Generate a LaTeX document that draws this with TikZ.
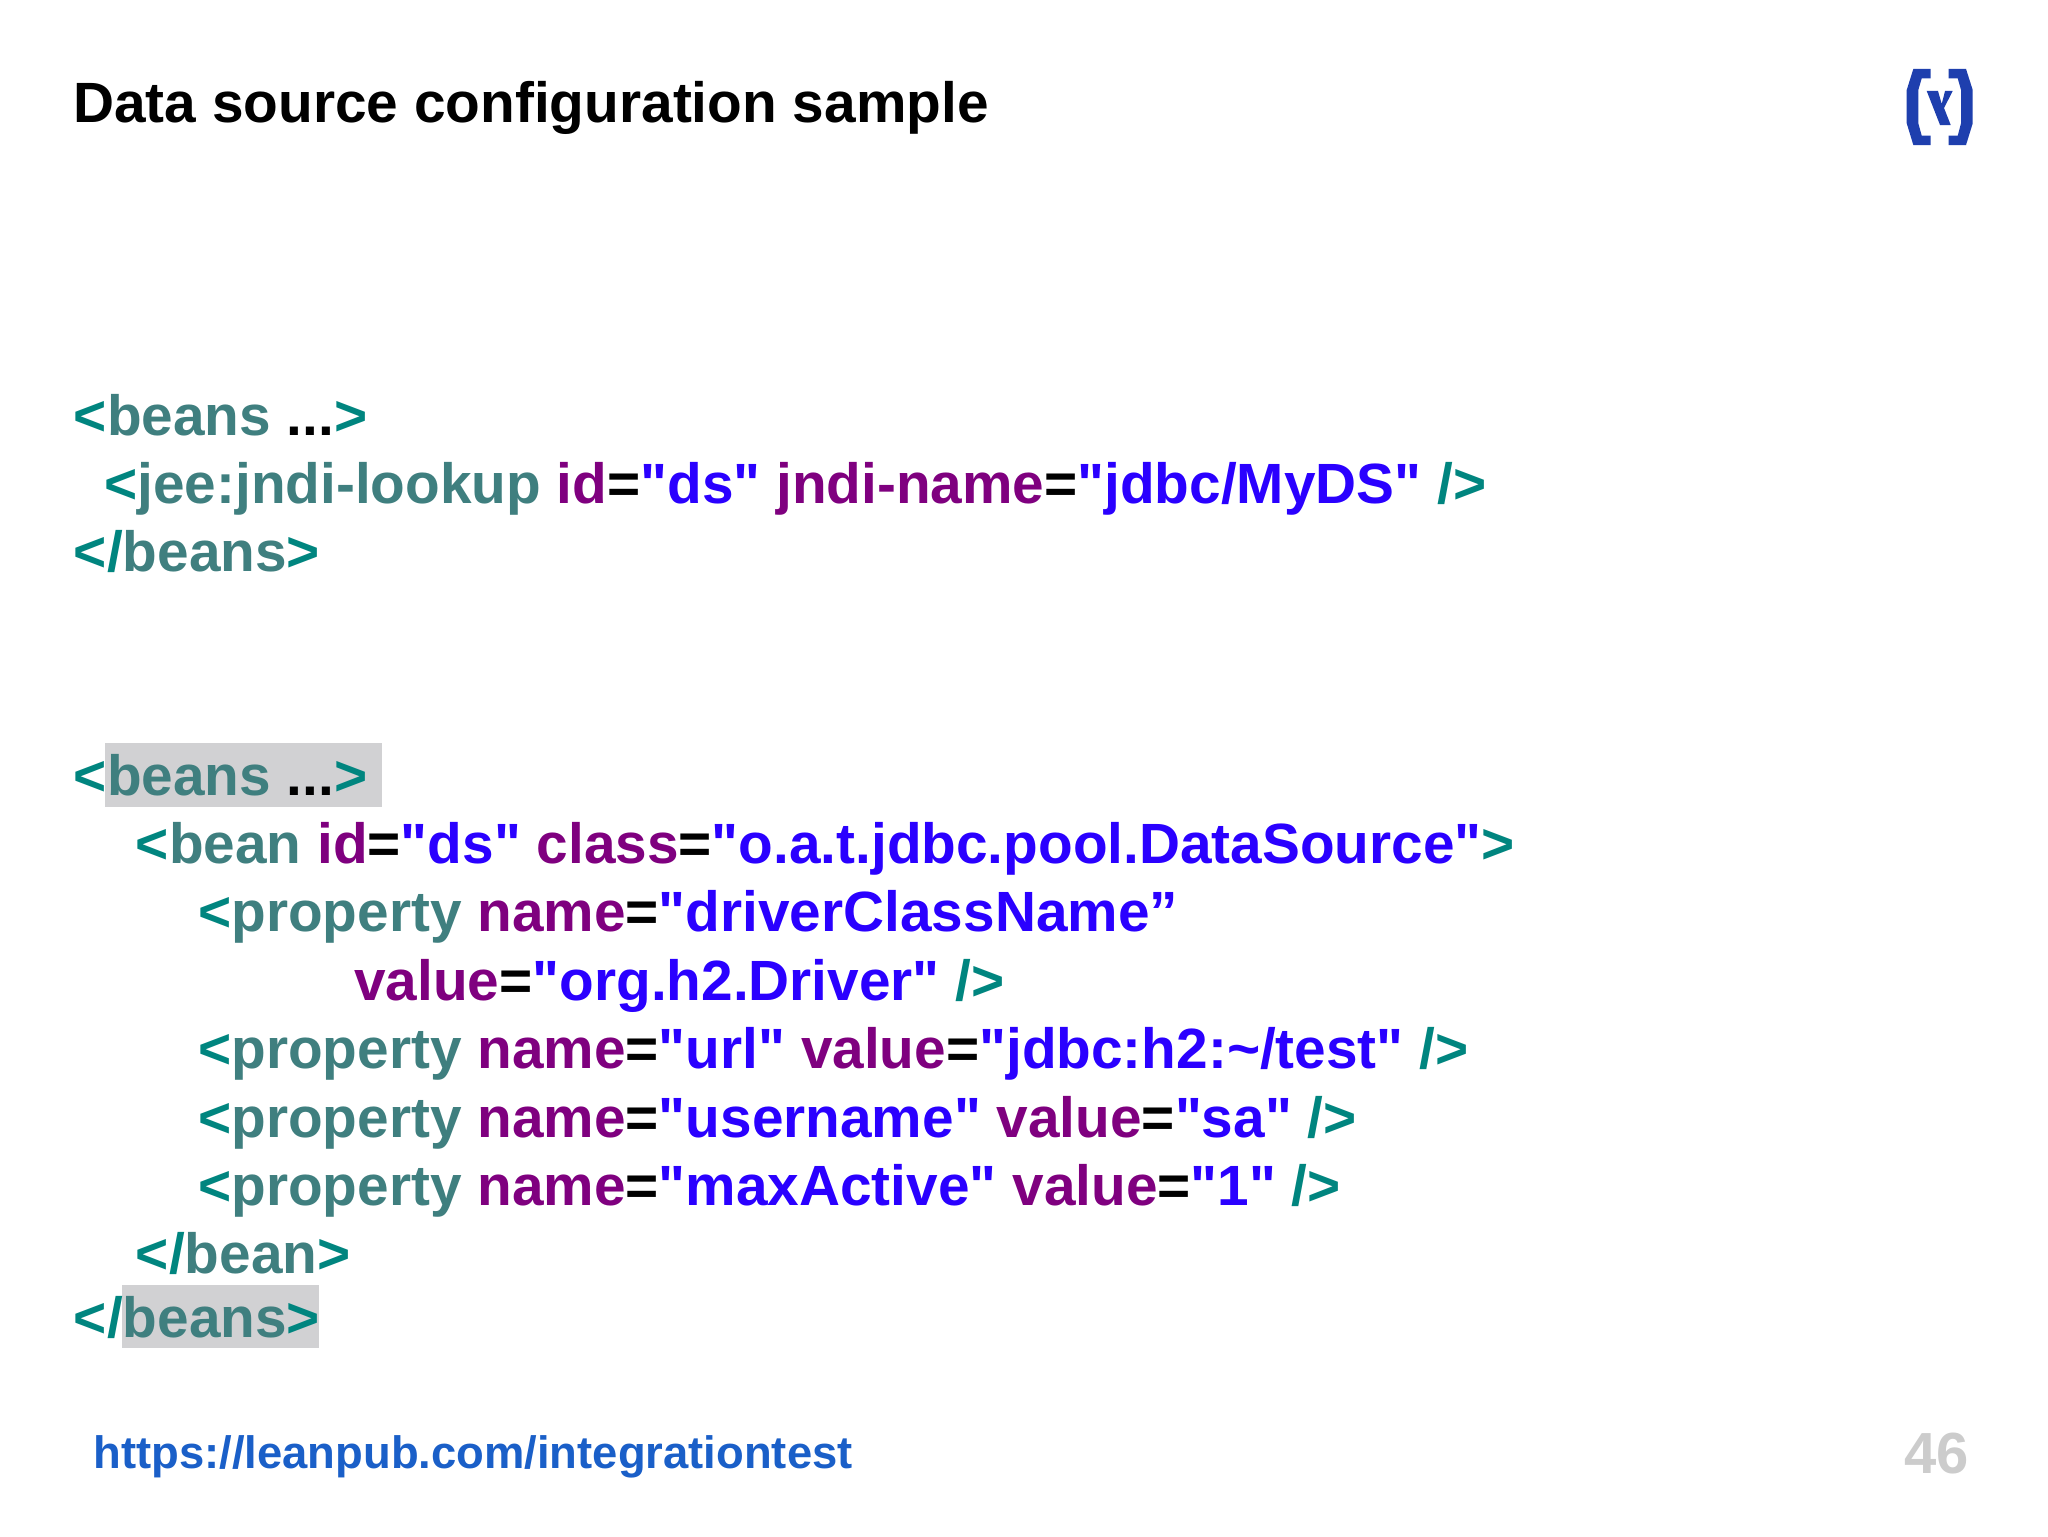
\documentclass[tikz,border=0pt]{standalone}
\usepackage{fontspec}
\setmainfont{Liberation Sans}[Ligatures=TeXOff]
\definecolor{brk}{HTML}{00857F}
\definecolor{tagname}{HTML}{3F7F7F}
\definecolor{attrib}{HTML}{7F007F}
\definecolor{strval}{HTML}{2A00FF}
\definecolor{hilite}{HTML}{D1D1D3}
\definecolor{logoblue}{HTML}{1E3FAE}
\definecolor{urlblue}{HTML}{1A5FC8}
\definecolor{pagegray}{HTML}{CCCCCC}
\newcommand{\bk}[1]{\textcolor{brk}{#1}}
\newcommand{\tn}[1]{\textcolor{tagname}{#1}}
\newcommand{\at}[1]{\textcolor{attrib}{#1}\textcolor{black}{=}}
\newcommand{\vl}[1]{\textcolor{strval}{#1}}
\begin{document}
\begin{tikzpicture}[x=0.5pt,y=-0.5pt]
\tikzset{codeline/.style={anchor=base west, inner sep=0pt, font=\fontsize{28.38}{34}\selectfont\bfseries},
  hibox/.style={fill=hilite, draw=none}}
\useasboundingbox (0,0) rectangle (2048,1536);
\fill[white] (0,0) rectangle (2048,1536);
% highlights
\fill[hibox] (105,743) rectangle (382,807);
\fill[hibox] (122,1285) rectangle (319,1348);
% heading
\node[anchor=base west, inner sep=0pt, font=\fontsize{28.4}{33}\selectfont\bfseries] (title) at (73,122) {Data source configuration sample};
% logo
\fill[logoblue] (1930.7,69) -- (1913.3,69) -- (1906.7,90) -- (1906.7,123.3) -- (1913.3,145) -- (1930.7,145) -- (1930.7,135.7) -- (1921.7,135.7) -- (1918.3,123.3) -- (1918.3,90) -- (1921.7,78.3) -- (1930.7,78.3) -- cycle;
\fill[logoblue] (1948.7,69) -- (1966,69) -- (1972.7,90) -- (1972.7,123.3) -- (1966,145) -- (1948.7,145) -- (1948.7,135.7) -- (1957.7,135.7) -- (1961,123.3) -- (1961,90) -- (1957.7,78.3) -- (1948.7,78.3) -- cycle;
\fill[logoblue] (1926.7,91) -- (1938,91) -- (1941.7,104) -- (1945,91) -- (1952.7,91) -- (1944,108) -- (1950.7,125) -- (1940,125) -- cycle;
% first block
\node[codeline] (l1) at (73.5,435) {\bk{<}\tn{beans} ...\bk{>}};
\node[codeline] (l2) at (104,503) {\bk{<}\tn{jee:jndi-lookup} \at{id}\vl{"ds"} \at{jndi-name}\vl{"jdbc/MyDS"} \bk{/>}};
\node[codeline] (l3) at (73.5,571) {\bk{</}\tn{beans}\bk{>}};
% second block
\node[codeline] (m1) at (73.5,795) {\bk{<}\tn{beans} ...\bk{>}};
\node[codeline] (m2) at (135.5,863) {\bk{<}\tn{bean} \at{id}\vl{"ds"} \at{class}\vl{"o.a.t.jdbc.pool.DataSource"}\bk{>}};
\node[codeline] (m3) at (198,931.5) {\bk{<}\tn{property} \at{name}\vl{"driverClassName”}};
\node[codeline] (m4) at (354,1000) {\at{value}\vl{"org.h2.Driver"} \bk{/>}};
\node[codeline] (m5) at (198,1068) {\bk{<}\tn{property} \at{name}\vl{"url"} \at{value}\vl{"jdbc:h2:\symbol{126}/test"} \bk{/>}};
\node[codeline] (m6) at (198,1137) {\bk{<}\tn{property} \at{name}\vl{"username"} \at{value}\vl{"sa"} \bk{/>}};
\node[codeline] (m7) at (198,1205) {\bk{<}\tn{property} \at{name}\vl{"maxActive"} \at{value}\vl{"1"} \bk{/>}};
\node[codeline] (m8) at (135.5,1273) {\bk{</}\tn{bean}\bk{>}};
\node[codeline] (m9) at (73.5,1337.5) {\bk{</}\tn{beans}\bk{>}};
% footer
\node[anchor=base west, inner sep=0pt, text=urlblue, font=\fontsize{22.7}{28}\selectfont\bfseries] (url) at (93,1468) {https://leanpub.com/integrationtest};
\node[anchor=base east, inner sep=0pt, text=pagegray, font=\fontsize{29}{34}\selectfont\bfseries] (pagenum) at (1969,1473) {46};
\end{tikzpicture}
\end{document}
